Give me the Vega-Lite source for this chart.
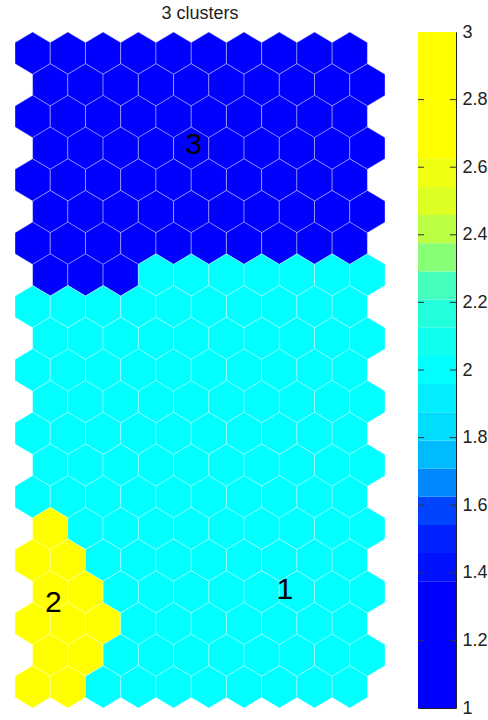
{
  "$schema": "https://vega.github.io/schema/vega-lite/v6.json",
  "background": "white",
  "padding": {"left": 13, "top": 5, "right": 0, "bottom": 0},
  "config": {"font": "Liberation Sans", "view": {"stroke": null}},
  "datasets": {
    "hexes": [
      {"x":0,"y":0,"v":1},{"x":1,"y":0,"v":1},{"x":2,"y":0,"v":1},{"x":3,"y":0,"v":1},{"x":4,"y":0,"v":1},{"x":5,"y":0,"v":1},{"x":6,"y":0,"v":1},{"x":7,"y":0,"v":1},{"x":8,"y":0,"v":1},{"x":9,"y":0,"v":1},
      {"x":0.5,"y":1,"v":1},{"x":1.5,"y":1,"v":1},{"x":2.5,"y":1,"v":1},{"x":3.5,"y":1,"v":1},{"x":4.5,"y":1,"v":1},{"x":5.5,"y":1,"v":1},{"x":6.5,"y":1,"v":1},{"x":7.5,"y":1,"v":1},{"x":8.5,"y":1,"v":1},{"x":9.5,"y":1,"v":1},
      {"x":0,"y":2,"v":1},{"x":1,"y":2,"v":1},{"x":2,"y":2,"v":1},{"x":3,"y":2,"v":1},{"x":4,"y":2,"v":1},{"x":5,"y":2,"v":1},{"x":6,"y":2,"v":1},{"x":7,"y":2,"v":1},{"x":8,"y":2,"v":1},{"x":9,"y":2,"v":1},
      {"x":0.5,"y":3,"v":1},{"x":1.5,"y":3,"v":1},{"x":2.5,"y":3,"v":1},{"x":3.5,"y":3,"v":1},{"x":4.5,"y":3,"v":1},{"x":5.5,"y":3,"v":1},{"x":6.5,"y":3,"v":1},{"x":7.5,"y":3,"v":1},{"x":8.5,"y":3,"v":1},{"x":9.5,"y":3,"v":1},
      {"x":0,"y":4,"v":1},{"x":1,"y":4,"v":1},{"x":2,"y":4,"v":1},{"x":3,"y":4,"v":1},{"x":4,"y":4,"v":1},{"x":5,"y":4,"v":1},{"x":6,"y":4,"v":1},{"x":7,"y":4,"v":1},{"x":8,"y":4,"v":1},{"x":9,"y":4,"v":1},
      {"x":0.5,"y":5,"v":1},{"x":1.5,"y":5,"v":1},{"x":2.5,"y":5,"v":1},{"x":3.5,"y":5,"v":1},{"x":4.5,"y":5,"v":1},{"x":5.5,"y":5,"v":1},{"x":6.5,"y":5,"v":1},{"x":7.5,"y":5,"v":1},{"x":8.5,"y":5,"v":1},{"x":9.5,"y":5,"v":1},
      {"x":0,"y":6,"v":1},{"x":1,"y":6,"v":1},{"x":2,"y":6,"v":1},{"x":3,"y":6,"v":1},{"x":4,"y":6,"v":1},{"x":5,"y":6,"v":1},{"x":6,"y":6,"v":1},{"x":7,"y":6,"v":1},{"x":8,"y":6,"v":1},{"x":9,"y":6,"v":1},
      {"x":0.5,"y":7,"v":1},{"x":1.5,"y":7,"v":1},{"x":2.5,"y":7,"v":1},{"x":3.5,"y":7,"v":2},{"x":4.5,"y":7,"v":2},{"x":5.5,"y":7,"v":2},{"x":6.5,"y":7,"v":2},{"x":7.5,"y":7,"v":2},{"x":8.5,"y":7,"v":2},{"x":9.5,"y":7,"v":2},
      {"x":0,"y":8,"v":2},{"x":1,"y":8,"v":2},{"x":2,"y":8,"v":2},{"x":3,"y":8,"v":2},{"x":4,"y":8,"v":2},{"x":5,"y":8,"v":2},{"x":6,"y":8,"v":2},{"x":7,"y":8,"v":2},{"x":8,"y":8,"v":2},{"x":9,"y":8,"v":2},
      {"x":0.5,"y":9,"v":2},{"x":1.5,"y":9,"v":2},{"x":2.5,"y":9,"v":2},{"x":3.5,"y":9,"v":2},{"x":4.5,"y":9,"v":2},{"x":5.5,"y":9,"v":2},{"x":6.5,"y":9,"v":2},{"x":7.5,"y":9,"v":2},{"x":8.5,"y":9,"v":2},{"x":9.5,"y":9,"v":2},
      {"x":0,"y":10,"v":2},{"x":1,"y":10,"v":2},{"x":2,"y":10,"v":2},{"x":3,"y":10,"v":2},{"x":4,"y":10,"v":2},{"x":5,"y":10,"v":2},{"x":6,"y":10,"v":2},{"x":7,"y":10,"v":2},{"x":8,"y":10,"v":2},{"x":9,"y":10,"v":2},
      {"x":0.5,"y":11,"v":2},{"x":1.5,"y":11,"v":2},{"x":2.5,"y":11,"v":2},{"x":3.5,"y":11,"v":2},{"x":4.5,"y":11,"v":2},{"x":5.5,"y":11,"v":2},{"x":6.5,"y":11,"v":2},{"x":7.5,"y":11,"v":2},{"x":8.5,"y":11,"v":2},{"x":9.5,"y":11,"v":2},
      {"x":0,"y":12,"v":2},{"x":1,"y":12,"v":2},{"x":2,"y":12,"v":2},{"x":3,"y":12,"v":2},{"x":4,"y":12,"v":2},{"x":5,"y":12,"v":2},{"x":6,"y":12,"v":2},{"x":7,"y":12,"v":2},{"x":8,"y":12,"v":2},{"x":9,"y":12,"v":2},
      {"x":0.5,"y":13,"v":2},{"x":1.5,"y":13,"v":2},{"x":2.5,"y":13,"v":2},{"x":3.5,"y":13,"v":2},{"x":4.5,"y":13,"v":2},{"x":5.5,"y":13,"v":2},{"x":6.5,"y":13,"v":2},{"x":7.5,"y":13,"v":2},{"x":8.5,"y":13,"v":2},{"x":9.5,"y":13,"v":2},
      {"x":0,"y":14,"v":2},{"x":1,"y":14,"v":2},{"x":2,"y":14,"v":2},{"x":3,"y":14,"v":2},{"x":4,"y":14,"v":2},{"x":5,"y":14,"v":2},{"x":6,"y":14,"v":2},{"x":7,"y":14,"v":2},{"x":8,"y":14,"v":2},{"x":9,"y":14,"v":2},
      {"x":0.5,"y":15,"v":3},{"x":1.5,"y":15,"v":2},{"x":2.5,"y":15,"v":2},{"x":3.5,"y":15,"v":2},{"x":4.5,"y":15,"v":2},{"x":5.5,"y":15,"v":2},{"x":6.5,"y":15,"v":2},{"x":7.5,"y":15,"v":2},{"x":8.5,"y":15,"v":2},{"x":9.5,"y":15,"v":2},
      {"x":0,"y":16,"v":3},{"x":1,"y":16,"v":3},{"x":2,"y":16,"v":2},{"x":3,"y":16,"v":2},{"x":4,"y":16,"v":2},{"x":5,"y":16,"v":2},{"x":6,"y":16,"v":2},{"x":7,"y":16,"v":2},{"x":8,"y":16,"v":2},{"x":9,"y":16,"v":2},
      {"x":0.5,"y":17,"v":3},{"x":1.5,"y":17,"v":3},{"x":2.5,"y":17,"v":2},{"x":3.5,"y":17,"v":2},{"x":4.5,"y":17,"v":2},{"x":5.5,"y":17,"v":2},{"x":6.5,"y":17,"v":2},{"x":7.5,"y":17,"v":2},{"x":8.5,"y":17,"v":2},{"x":9.5,"y":17,"v":2},
      {"x":0,"y":18,"v":3},{"x":1,"y":18,"v":3},{"x":2,"y":18,"v":3},{"x":3,"y":18,"v":2},{"x":4,"y":18,"v":2},{"x":5,"y":18,"v":2},{"x":6,"y":18,"v":2},{"x":7,"y":18,"v":2},{"x":8,"y":18,"v":2},{"x":9,"y":18,"v":2},
      {"x":0.5,"y":19,"v":3},{"x":1.5,"y":19,"v":3},{"x":2.5,"y":19,"v":2},{"x":3.5,"y":19,"v":2},{"x":4.5,"y":19,"v":2},{"x":5.5,"y":19,"v":2},{"x":6.5,"y":19,"v":2},{"x":7.5,"y":19,"v":2},{"x":8.5,"y":19,"v":2},{"x":9.5,"y":19,"v":2},
      {"x":0,"y":20,"v":3},{"x":1,"y":20,"v":3},{"x":2,"y":20,"v":2},{"x":3,"y":20,"v":2},{"x":4,"y":20,"v":2},{"x":5,"y":20,"v":2},{"x":6,"y":20,"v":2},{"x":7,"y":20,"v":2},{"x":8,"y":20,"v":2},{"x":9,"y":20,"v":2}
    ],
    "labels": [
      {"x":4.57,"y":2.89,"t":"3"},
      {"x":0.59,"y":17.36,"t":"2"},
      {"x":7.16,"y":16.95,"t":"1"}
    ],
    "bands": [
      {"s":0,"v0":1,"v1":1.375},
      {"s":1,"v0":1.375,"v1":1.4583},
      {"s":2,"v0":1.4583,"v1":1.5417},
      {"s":3,"v0":1.5417,"v1":1.625},
      {"s":4,"v0":1.625,"v1":1.7083},
      {"s":5,"v0":1.7083,"v1":1.7917},
      {"s":6,"v0":1.7917,"v1":1.875},
      {"s":7,"v0":1.875,"v1":1.9583},
      {"s":8,"v0":1.9583,"v1":2.0417},
      {"s":9,"v0":2.0417,"v1":2.125},
      {"s":10,"v0":2.125,"v1":2.2083},
      {"s":11,"v0":2.2083,"v1":2.2917},
      {"s":12,"v0":2.2917,"v1":2.375},
      {"s":13,"v0":2.375,"v1":2.4583},
      {"s":14,"v0":2.4583,"v1":2.5417},
      {"s":15,"v0":2.5417,"v1":2.625},
      {"s":16,"v0":2.625,"v1":3}
    ],
    "ticks": [
      {"t":1.2},{"t":1.4},{"t":1.6},{"t":1.8},{"t":2},{"t":2.2},{"t":2.4},{"t":2.6},{"t":2.8}
    ]
  },
  "bounds": "flush",
  "spacing": 33,
  "resolve": {"scale": {"x": "independent", "y": "independent", "fill": "independent"}},
  "hconcat": [
    {
      "width": 370,
      "height": 676,
      "title": {"text": "3 clusters", "fontSize": 18, "fontWeight": "normal", "font": "Liberation Sans", "color": "#222", "anchor": "middle", "baseline": "alphabetic", "offset": -7},
      "layer": [
        {
          "data": {"name": "hexes"},
          "mark": {"type": "point", "shape": "M0,-1.2L1,-0.6L1,0.6L0,1.2L-1,0.6L-1,-0.6Z", "size": 1242, "filled": true, "opacity": 1, "stroke": "white", "strokeWidth": 0.8, "strokeOpacity": 0.45},
          "encoding": {
            "x": {"field": "x", "type": "quantitative", "scale": {"domain": [-0.5, 10], "nice": false, "zero": false}, "axis": null},
            "y": {"field": "y", "type": "quantitative", "scale": {"domain": [-0.667, 20.667], "nice": false, "zero": false, "reverse": true}, "axis": null},
            "fill": {"field": "v", "type": "ordinal", "scale": {"domain": [1, 2, 3], "range": ["#0000ff", "#00ffff", "#ffff00"]}, "legend": null}
          }
        },
        {
          "data": {"name": "labels"},
          "mark": {"type": "text", "fontSize": 30, "font": "Liberation Sans", "color": "black", "align": "center", "baseline": "middle"},
          "encoding": {
            "x": {"field": "x", "type": "quantitative"},
            "y": {"field": "y", "type": "quantitative"},
            "text": {"field": "t"}
          }
        }
      ]
    },
    {
      "width": 38,
      "height": 676,
      "view": {"stroke": "#222", "strokeWidth": 1},
      "layer": [
        {
          "data": {"name": "bands"},
          "mark": {"type": "rect"},
          "encoding": {
            "y": {"field": "v0", "type": "quantitative", "scale": {"domain": [1, 3], "nice": false, "zero": false},
              "axis": {"orient": "right", "values": [1, 1.2, 1.4, 1.6, 1.8, 2, 2.2, 2.4, 2.6, 2.8, 3], "format": "~g", "ticks": false, "domain": false, "grid": false, "labelFontSize": 18, "labelFont": "Liberation Sans", "labelColor": "#222", "labelPadding": 6, "title": null}},
            "y2": {"field": "v1"},
            "fill": {"field": "s", "type": "ordinal", "scale": {"domain": [0,1,2,3,4,5,6,7,8,9,10,11,12,13,14,15,16], "range": ["#0000ff","#0011ff","#0022ff","#0044ff","#0088ff","#00bbff","#00ddff","#00eeff","#00ffff","#11ffee","#22ffdd","#44ffbb","#88ff77","#bbff44","#ddff22","#eeff11","#ffff00"]}, "legend": null}
          }
        },
        {
          "data": {"name": "ticks"},
          "mark": {"type": "rule", "color": "#333", "strokeWidth": 1},
          "encoding": {
            "y": {"field": "t", "type": "quantitative"},
            "x": {"datum": 0, "type": "quantitative", "scale": {"domain": [0, 1], "nice": false, "zero": false}, "axis": null},
            "x2": {"datum": 0.16}
          }
        },
        {
          "data": {"name": "ticks"},
          "mark": {"type": "rule", "color": "#333", "strokeWidth": 1},
          "encoding": {
            "y": {"field": "t", "type": "quantitative"},
            "x": {"datum": 0.84, "type": "quantitative"},
            "x2": {"datum": 1}
          }
        }
      ]
    }
  ]
}
